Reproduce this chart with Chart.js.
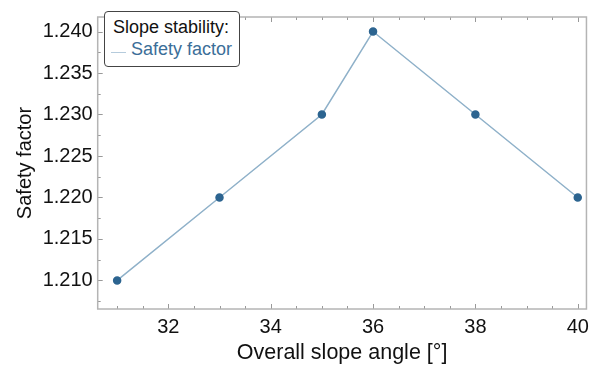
<!DOCTYPE html>
<html>
<head>
<meta charset="utf-8">
<script src="https://cdn.jsdelivr.net/npm/chart.js@4"></script>
<style>
  body { margin: 0; background: #fff; }
  #wrap { position: relative; width: 595px; height: 366px; }
  #legend {
    position: absolute; left: 104px; top: 11px; width: 134px; height: 54px;
    border: 1px solid #444; border-radius: 4px; background: #fff;
    font-family: "Liberation Sans", Arial, sans-serif; font-size: 18px;
  }
  #legend .title { position: absolute; left: 8px; top: 5px; color: #111; white-space: nowrap; }
  #legend .item { position: absolute; left: 26px; top: 27px; color: #3b6e98; white-space: nowrap; }
  #legend .sym { position: absolute; left: 6px; top: 40px; width: 15px; height: 0; border-top: 1px solid #b5cbdc; }
</style>
</head>
<body>
<div id="wrap">
  <canvas id="slopeChart" width="595" height="366"></canvas>
  <div id="legend">
    <div class="title">Slope stability:</div>
    <div class="sym"></div>
    <div class="item">Safety factor</div>
  </div>
</div>
<script>
const angles = [31, 33, 35, 36, 38, 40];
const safetyFactor = [1.210, 1.220, 1.230, 1.240, 1.230, 1.220];
const xTicks = [32, 34, 36, 38, 40];
const yTicks = [1.210, 1.215, 1.220, 1.225, 1.230, 1.235, 1.240];

const font = "Liberation Sans, Arial, sans-serif";

// inward ticks and frame around the plot
const frame = {
    id: "frame",
    afterDatasetsDraw(chart) {
        const { ctx, chartArea: a, scales } = chart;
        const xs = scales.x, ys = scales.y;
        ctx.save();
        ctx.strokeStyle = "#999";
        ctx.lineWidth = 1;
        for (let v = 30.5; v <= 40.2; v += 0.5) {
            const px = Math.round(xs.getPixelForValue(v)) + 0.5;
            if (px < a.left || px > a.right) continue;
            const len = Number.isInteger(v / 2) ? 5 : 3;
            ctx.beginPath();
            ctx.moveTo(px, a.bottom); ctx.lineTo(px, a.bottom - len);
            ctx.moveTo(px, a.top); ctx.lineTo(px, a.top + len);
            ctx.stroke();
        }
        for (let i = -2; i <= 14; i++) {
            const v = 1.205 + i * 0.0025;
            const py = Math.round(ys.getPixelForValue(v)) + 0.5;
            if (py < a.top || py > a.bottom) continue;
            const len = i % 2 === 0 ? 5 : 3;
            ctx.beginPath();
            ctx.moveTo(a.left, py); ctx.lineTo(a.left + len, py);
            ctx.stroke();
        }
        ctx.strokeStyle = "#b4b4b4";
        ctx.lineWidth = 1.5;
        ctx.strokeRect(a.left, a.top, a.right - a.left, a.bottom - a.top);
        ctx.restore();
    }
};

new Chart(document.getElementById("slopeChart"), {
    type: "line",
    data: {
        datasets: [{
            label: "Safety factor",
            data: angles.map((a, i) => ({ x: a, y: safetyFactor[i] })),
            borderColor: "#8fb1c9",
            borderWidth: 1.5,
            pointBackgroundColor: "#2c6490",
            pointBorderColor: "#2c6490",
            pointRadius: 3.5,
            tension: 0
        }]
    },
    options: {
        responsive: false,
        animation: false,
        layout: { padding: { top: 5, right: 7, left: 0, bottom: 0 } },
        plugins: { legend: { display: false }, tooltip: { enabled: false } },
        scales: {
            x: {
                type: "linear",
                min: 30.62,
                max: 40.17,
                afterBuildTicks: s => { s.ticks = xTicks.map(v => ({ value: v })); },
                afterFit: s => { s.height = 57; },
                grid: { display: false, drawTicks: false },
                border: { display: false },
                ticks: { color: "#111", font: { family: font, size: 20 }, padding: 6, maxRotation: 0 },
                title: { display: true, text: "Overall slope angle [°]", color: "#111", font: { family: font, size: 21.5 }, padding: { top: 0, bottom: 0 } }
            },
            y: {
                min: 1.20656,
                max: 1.24175,
                afterBuildTicks: s => { s.ticks = yTicks.map(v => ({ value: v })); },
                afterFit: s => { s.width = 97.7; },
                grid: { display: false, drawTicks: false },
                border: { display: false },
                ticks: { color: "#111", font: { family: font, size: 20 }, padding: 5, callback: v => v.toFixed(3) },
                title: { display: true, text: "Safety factor", color: "#111", font: { family: font, size: 20 }, padding: { top: 13, bottom: 0 } }
            }
        }
    },
    plugins: [frame]
});
</script>
</body>
</html>
